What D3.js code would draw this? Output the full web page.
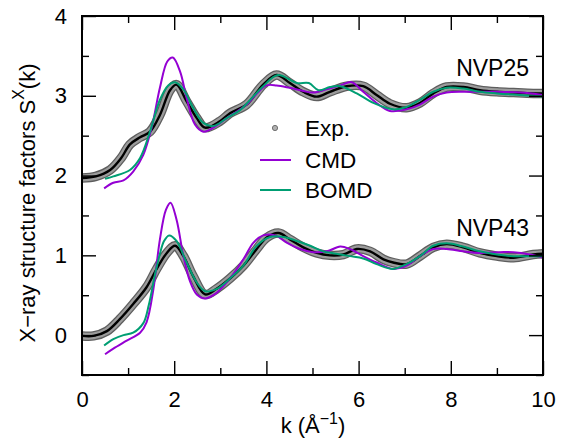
<!DOCTYPE html>
<html>
<head>
<meta charset="utf-8">
<script src="https://cdn.jsdelivr.net/npm/d3@7"></script>
<style>
  html, body { margin: 0; padding: 0; background: #fff; }
  svg text { font-family: "Liberation Sans", Arial, Helvetica, sans-serif; fill: #000; }
</style>
</head>
<body>
<svg id="chart" width="561" height="445"></svg>
<script>
// ---------- DATA ----------
const xTicks = [0, 2, 4, 6, 8, 10];
const yTicks = [0, 1, 2, 3, 4];
const seriesNames = ["Exp.", "CMD", "BOMD"];
const panelLabels = ["NVP25", "NVP43"];

// NVP25 (shifted by +2)
const exp25 = [[0,1.97],[0.3,1.99],[0.61,2.07],[0.85,2.22],[1.04,2.39],[1.26,2.48],[1.475,2.55],[1.69,2.76],[1.91,3.07],[2.05,3.14],[2.27,2.93],[2.49,2.72],[2.67,2.60],[2.99,2.68],[3.21,2.78],[3.57,2.89],[3.93,3.14],[4.22,3.26],[4.51,3.16],[4.8,3.05],[5.09,2.99],[5.38,3.05],[5.74,3.12],[6.1,3.12],[6.39,3.01],[6.68,2.90],[7.04,2.85],[7.33,2.91],[7.62,3.03],[7.91,3.11],[8.27,3.11],[8.63,3.07],[9.0,3.05],[9.36,3.04],[9.79,3.03],[10,3.03]];
const cmd25 = [[0.48,1.84],[0.68,1.91],[0.9,1.94],[1.11,2.05],[1.33,2.26],[1.51,2.60],[1.69,3.10],[1.85,3.43],[1.97,3.48],[2.13,3.30],[2.27,2.97],[2.45,2.64],[2.63,2.55],[2.85,2.60],[3.14,2.72],[3.43,2.83],[3.57,2.89],[3.8,3.03],[4.0,3.13],[4.22,3.13],[4.5,3.10],[4.8,3.06],[5.02,3.04],[5.3,3.08],[5.6,3.13],[5.85,3.17],[6.1,3.05],[6.39,2.91],[6.68,2.81],[7.04,2.83],[7.33,2.89],[7.62,2.99],[7.91,3.04],[8.27,3.05],[8.63,3.05],[9.0,3.05],[9.5,3.04],[10,3.01]];
const bomd25 = [[0.5,1.96],[0.68,1.99],[1.04,2.07],[1.26,2.22],[1.475,2.55],[1.69,2.95],[1.87,3.13],[2.02,3.17],[2.2,3.08],[2.41,2.85],[2.63,2.66],[2.85,2.62],[3.14,2.72],[3.43,2.82],[3.57,2.90],[3.93,3.12],[4.25,3.26],[4.66,3.16],[4.92,3.16],[5.13,3.07],[5.38,3.11],[5.6,3.12],[5.96,3.03],[6.32,2.91],[6.75,2.83],[7.04,2.86],[7.33,2.95],[7.62,3.05],[7.91,3.10],[8.27,3.09],[8.63,3.05],[9.0,3.03],[9.5,3.01],[10,2.99]];

// NVP43
const exp43 = [[0,-0.01],[0.25,-0.01],[0.54,0.05],[0.82,0.20],[1.11,0.39],[1.40,0.60],[1.62,0.83],[1.84,1.03],[2.02,1.12],[2.2,0.99],[2.41,0.74],[2.67,0.51],[2.92,0.58],[3.21,0.71],[3.5,0.87],[3.79,1.08],[4.0,1.22],[4.26,1.28],[4.51,1.20],[4.8,1.10],[5.09,1.03],[5.38,1.00],[5.67,1.01],[5.96,1.08],[6.25,1.05],[6.54,0.95],[6.75,0.91],[7.04,0.89],[7.33,0.99],[7.62,1.10],[7.91,1.14],[8.27,1.10],[8.63,1.03],[9.0,0.99],[9.36,0.97],[9.79,1.01],[10,1.02]];
const cmd43 = [[0.5,-0.24],[0.68,-0.17],[0.97,-0.07],[1.26,0.03],[1.40,0.16],[1.55,0.58],[1.69,1.20],[1.82,1.57],[1.92,1.66],[2.05,1.45],[2.2,0.99],[2.34,0.68],[2.49,0.51],[2.67,0.46],[2.92,0.53],[3.21,0.71],[3.5,0.95],[3.72,1.16],[3.93,1.25],[4.19,1.25],[4.44,1.16],[4.73,1.08],[5.02,1.04],[5.31,1.05],[5.6,1.11],[5.81,1.08],[6.1,0.99],[6.39,0.91],[6.75,0.83],[7.04,0.87],[7.33,0.99],[7.62,1.08],[7.91,1.08],[8.27,1.05],[8.63,1.03],[9.07,1.04],[9.36,1.04],[9.72,1.01],[10,0.97]];
const bomd43 = [[0.48,-0.13],[0.68,-0.05],[0.9,0.0],[1.11,0.03],[1.33,0.15],[1.45,0.38],[1.58,0.75],[1.69,1.02],[1.78,1.18],[1.89,1.25],[2.05,1.18],[2.27,0.91],[2.49,0.66],[2.67,0.55],[2.92,0.58],[3.21,0.71],[3.5,0.87],[3.79,1.12],[4.08,1.23],[4.37,1.23],[4.66,1.18],[4.95,1.12],[5.23,1.05],[5.52,1.02],[5.81,0.99],[6.1,0.96],[6.39,0.89],[6.75,0.83],[7.04,0.89],[7.33,0.99],[7.62,1.12],[7.91,1.15],[8.27,1.11],[8.63,1.05],[9.0,1.01],[9.36,0.99],[10,0.99]];

// ---------- LAYOUT ----------
const svg = d3.select("#chart");
const L = 82, R = 543, T = 16, B = 375;
const x = d3.scaleLinear().domain([0, 10]).range([L, R]);
const y = d3.scaleLinear().domain([-0.5, 4]).range([B, T]);
const FS = 22;
const colCMD = "#9400d3", colBOMD = "#009e73";

const clip = svg.append("defs").append("clipPath").attr("id", "clip");
clip.append("rect").attr("x", L).attr("y", T).attr("width", R - L).attr("height", B - T);

const line = d3.line().x(d => x(d[0])).y(d => y(d[1])).curve(d3.curveCatmullRom.alpha(0.5));

const plot = svg.append("g").attr("clip-path", "url(#clip)");

function drawExp(data) {
  plot.append("path").attr("d", line(data)).attr("fill", "none")
    .attr("stroke", "#5e5e5e").attr("stroke-width", 9.5).attr("stroke-linejoin", "round");
  plot.append("path").attr("d", line(data)).attr("fill", "none")
    .attr("stroke", "#9c9c9c").attr("stroke-width", 7).attr("stroke-linejoin", "round");
  plot.append("path").attr("d", line(data)).attr("fill", "none")
    .attr("stroke", "#000").attr("stroke-width", 2.4);
}
function drawLine(data, c) {
  plot.append("path").attr("d", line(data)).attr("fill", "none")
    .attr("stroke", c).attr("stroke-width", 2);
}

drawExp(exp25); drawExp(exp43);
drawLine(cmd25, colCMD); drawLine(cmd43, colCMD);
drawLine(bomd25, colBOMD); drawLine(bomd43, colBOMD);

// ---------- AXES ----------
function styleAxis(g) {
  g.select(".domain").remove();
  g.selectAll("line").attr("stroke", "#000").attr("stroke-width", 1.4);
  g.selectAll("text").attr("font-size", FS).attr("font-family", '"Liberation Sans", Arial, sans-serif');
}
const xMinor = d3.range(1, 10, 2);
const yMinor = [-0.5, 0.5, 1.5, 2.5, 3.5];

svg.append("g").attr("transform", `translate(0,${B})`)
  .call(d3.axisBottom(x).tickValues(xTicks).tickSize(-14).tickPadding(16.5).tickFormat(d3.format("d"))).call(styleAxis);
svg.append("g").attr("transform", `translate(0,${B})`)
  .call(d3.axisBottom(x).tickValues(xMinor).tickSize(-7).tickFormat("")).call(styleAxis);
svg.append("g").attr("transform", `translate(0,${T})`)
  .call(d3.axisTop(x).tickValues(xTicks).tickSize(-14).tickFormat("")).call(styleAxis);
svg.append("g").attr("transform", `translate(0,${T})`)
  .call(d3.axisTop(x).tickValues(xMinor).tickSize(-7).tickFormat("")).call(styleAxis);

svg.append("g").attr("transform", `translate(${L},0)`)
  .call(d3.axisLeft(y).tickValues(yTicks).tickSize(-14).tickPadding(15).tickFormat(d3.format("d"))).call(styleAxis);
svg.append("g").attr("transform", `translate(${L},0)`)
  .call(d3.axisLeft(y).tickValues(yMinor).tickSize(-7).tickFormat("")).call(styleAxis);
svg.append("g").attr("transform", `translate(${R},0)`)
  .call(d3.axisRight(y).tickValues(yTicks).tickSize(-14).tickFormat("")).call(styleAxis);
svg.append("g").attr("transform", `translate(${R},0)`)
  .call(d3.axisRight(y).tickValues(yMinor).tickSize(-7).tickFormat("")).call(styleAxis);

svg.append("rect").attr("x", L).attr("y", T).attr("width", R - L).attr("height", B - T)
  .attr("fill", "none").attr("stroke", "#000").attr("stroke-width", 2);

// ---------- TITLES ----------
const yt = svg.append("text").attr("transform", "translate(27,203) rotate(-90)")
  .attr("text-anchor", "middle").attr("font-size", FS).attr("dominant-baseline", "central");
yt.append("tspan").text("X\u2212ray structure factors S");
yt.append("tspan").attr("font-size", 16).attr("dy", -9).text("X");
yt.append("tspan").attr("dy", 9).text("(k)");

const xt = svg.append("text").attr("x", 313).attr("y", 433).attr("text-anchor", "middle").attr("font-size", FS);
xt.append("tspan").text("k (\u00C5");
xt.append("tspan").attr("font-size", 16).attr("dy", -9).text("\u22121");
xt.append("tspan").attr("dy", 9).text(")");

// panel labels
svg.append("text").attr("x", 529).attr("y", 76).attr("text-anchor", "end").attr("font-size", 23).text(panelLabels[0]);
svg.append("text").attr("x", 529).attr("y", 236).attr("text-anchor", "end").attr("font-size", 23).text(panelLabels[1]);

// ---------- LEGEND ----------
const lg = svg.append("g");
const legY = [128, 160, 190];
lg.append("circle").attr("cx", 275).attr("cy", legY[0]).attr("r", 2.6)
  .attr("fill", "#b0b0b0").attr("stroke", "#707070").attr("stroke-width", 1);
lg.append("line").attr("x1", 260).attr("x2", 291).attr("y1", legY[1]).attr("y2", legY[1]).attr("stroke", colCMD).attr("stroke-width", 2);
lg.append("line").attr("x1", 260).attr("x2", 291).attr("y1", legY[2]).attr("y2", legY[2]).attr("stroke", colBOMD).attr("stroke-width", 2);
seriesNames.forEach((n, i) => {
  lg.append("text").attr("x", 305).attr("y", legY[i]).attr("dy", "0.36em").attr("font-size", 22.5).text(n);
});
</script>
</body>
</html>
